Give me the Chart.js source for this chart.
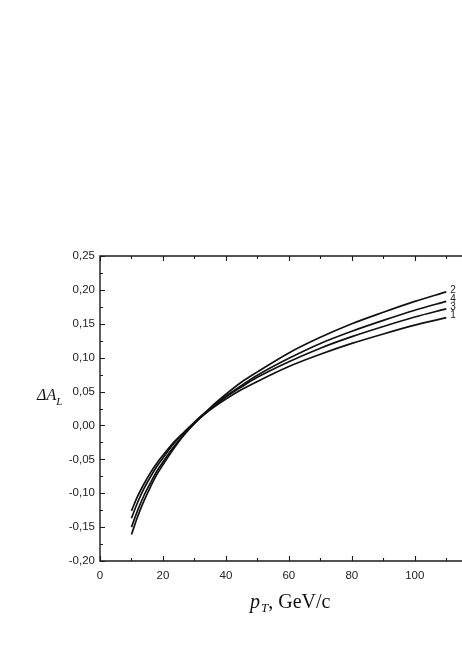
<!DOCTYPE html>
<html><head><meta charset="utf-8">
<script src="https://cdn.jsdelivr.net/npm/chart.js@4"></script>
<style>html,body{margin:0;padding:0;background:#fff;}#wrap{position:relative;width:462px;height:654px;}</style>
</head><body><div id="wrap"><canvas id="c" width="462" height="654"></canvas></div>
<script>
const pT = [10,12,14,16,18,20,23,26,30,35,40,45,50,60,70,80,90,100,110];
const curve1 = [-0.126,-0.104,-0.086,-0.070,-0.056,-0.044,-0.027,-0.013,0.004,0.023,0.039,0.053,0.065,0.087,0.105,0.121,0.135,0.148,0.159];
const curve2 = [-0.161,-0.134,-0.111,-0.091,-0.073,-0.058,-0.037,-0.018,0.003,0.026,0.046,0.064,0.079,0.107,0.130,0.150,0.167,0.183,0.197];
const curve3 = [-0.137,-0.113,-0.093,-0.076,-0.061,-0.048,-0.029,-0.014,0.005,0.025,0.042,0.057,0.071,0.094,0.114,0.131,0.146,0.160,0.172];
const curve4 = [-0.150,-0.125,-0.103,-0.085,-0.068,-0.054,-0.034,-0.017,0.003,0.024,0.043,0.059,0.074,0.099,0.121,0.139,0.155,0.170,0.183];
const curveNames = ['1','2','3','4'];
const xTickValues = [0,20,40,60,80,100];
const xTickLabels = ['0','20','40','60','80','100'];
const yTickValues = [-0.20,-0.15,-0.10,-0.05,0.00,0.05,0.10,0.15,0.20,0.25];
const yTickLabels = ['-0,20','-0,15','-0,10','-0,05','0,00','0,05','0,10','0,15','0,20','0,25'];

const series = [curve1, curve2, curve3, curve4];
const datasets = series.map((arr, i) => ({
  label: curveNames[i],
  data: pT.map((x, j) => ({x: x, y: arr[j]})),
  borderColor: '#111',
  borderWidth: 1.7,
  pointRadius: 0,
  fill: false,
  cubicInterpolationMode: 'monotone'
}));

const frame = {
  id: 'frame',
  afterDraw(chart) {
    const ctx = chart.ctx, xs = chart.scales.x, ys = chart.scales.y, a = chart.chartArea;
    ctx.save();
    ctx.strokeStyle = '#1a1a1a';
    ctx.lineWidth = 1.4;
    ctx.beginPath();
    ctx.moveTo(462, a.top); ctx.lineTo(a.left, a.top); ctx.lineTo(a.left, a.bottom); ctx.lineTo(462, a.bottom);
    ctx.stroke();
    ctx.lineWidth = 1.1;
    ctx.beginPath();
    yTickValues.forEach(v => { const y = Math.round(ys.getPixelForValue(v)) + 0.5; ctx.moveTo(a.left, y); ctx.lineTo(a.left + 5, y); });
    for (let i = 0; i < yTickValues.length - 1; i++) {
      const y = Math.round(ys.getPixelForValue((yTickValues[i] + yTickValues[i+1]) / 2)) + 0.5;
      ctx.moveTo(a.left, y); ctx.lineTo(a.left + 3, y);
    }
    xTickValues.forEach(v => { const x = Math.round(xs.getPixelForValue(v)) + 0.5;
      ctx.moveTo(x, a.bottom); ctx.lineTo(x, a.bottom - 5); ctx.moveTo(x, a.top); ctx.lineTo(x, a.top + 5); });
    [10,30,50,70,90,110].forEach(v => { const x = Math.round(xs.getPixelForValue(v)) + 0.5;
      ctx.moveTo(x, a.bottom); ctx.lineTo(x, a.bottom - 3); ctx.moveTo(x, a.top); ctx.lineTo(x, a.top + 3); });
    ctx.stroke();

    // curve labels
    ctx.fillStyle = '#222';
    ctx.font = '10px "Liberation Sans", Arial, sans-serif';
    ctx.textBaseline = 'middle';
    ctx.textAlign = 'left';
    const last = pT.length - 1;
    series.forEach((arr, i) => {
      const x = xs.getPixelForValue(pT[last]) + 4;
      const y = ys.getPixelForValue(arr[last]) - 2;
      ctx.fillText(curveNames[i], x, y);
    });

    // axis titles
    ctx.fillStyle = '#111';
    ctx.textBaseline = 'alphabetic';
    ctx.font = 'italic 16px "Liberation Serif", "Times New Roman", serif';
    ctx.fillText('\u0394A', 37, 400);
    let w = ctx.measureText('\u0394A').width;
    ctx.font = 'italic 11px "Liberation Serif", "Times New Roman", serif';
    ctx.fillText('L', 37 + w, 405);

    ctx.font = 'italic 20px "Liberation Serif", "Times New Roman", serif';
    ctx.fillText('p', 250, 608);
    let px = 250 + ctx.measureText('p').width + 1;
    ctx.font = 'italic 13px "Liberation Serif", "Times New Roman", serif';
    ctx.fillText('T', px, 612);
    px += ctx.measureText('T').width;
    ctx.font = '20px "Liberation Serif", "Times New Roman", serif';
    ctx.fillText(', GeV/c', px, 608);
    ctx.restore();
  }
};

new Chart(document.getElementById('c'), {
  type: 'line',
  data: { datasets: datasets },
  options: {
    responsive: false,
    animation: false,
    devicePixelRatio: 1,
    layout: { padding: { left: 0, top: 256, right: 0, bottom: 0 } },
    plugins: { legend: { display: false }, tooltip: { enabled: false } },
    scales: {
      x: {
        type: 'linear', min: 0, max: 115,
        afterFit: s => { s.height = 93; },
        afterBuildTicks: s => { s.ticks = xTickValues.map(v => ({ value: v })); },
        grid: { display: false, drawTicks: false },
        border: { display: false },
        ticks: { padding: 8, color: '#222', font: { size: 11.5, family: '"Liberation Sans", Arial, sans-serif' },
          maxRotation: 0, autoSkip: false, callback: (v, i) => xTickLabels[i] }
      },
      y: {
        type: 'linear', min: -0.2, max: 0.25,
        afterFit: s => { s.width = 100; },
        afterBuildTicks: s => { s.ticks = yTickValues.map(v => ({ value: v })); },
        grid: { display: false, drawTicks: false },
        border: { display: false },
        ticks: { padding: 5, color: '#222', font: { size: 11.5, family: '"Liberation Sans", Arial, sans-serif' },
          autoSkip: false, callback: (v, i) => yTickLabels[i] }
      }
    }
  },
  plugins: [frame]
});
</script></body></html>
